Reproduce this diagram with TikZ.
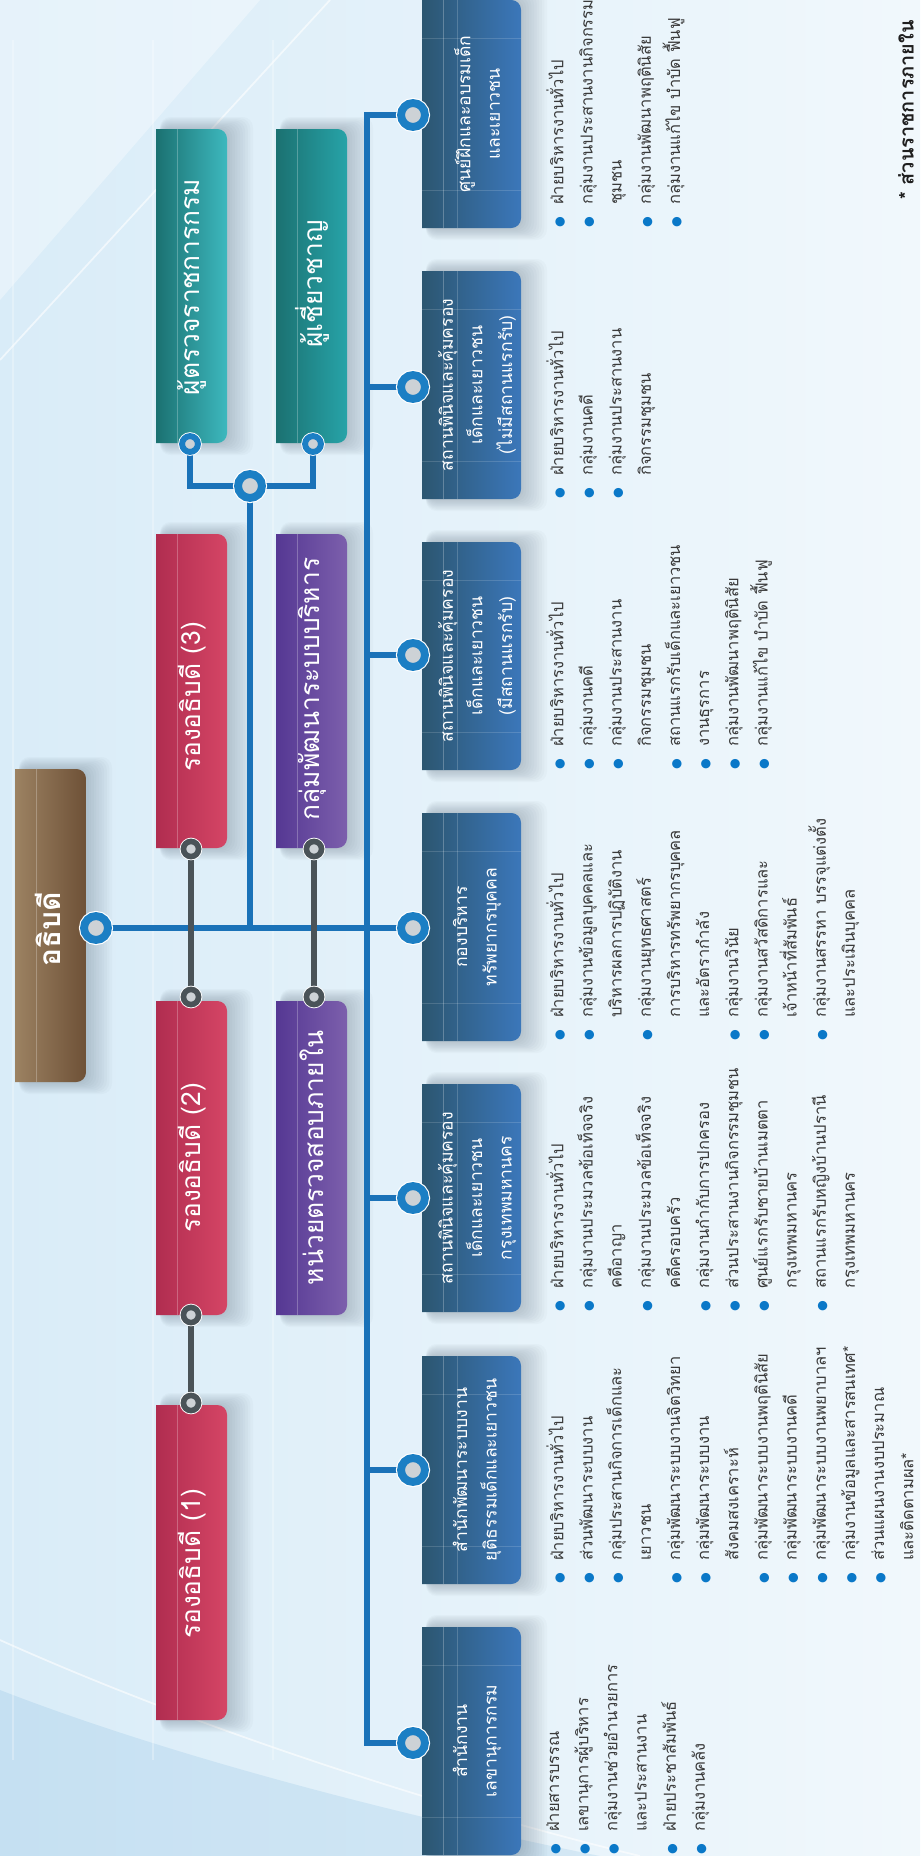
\documentclass[tikz,border=0pt]{standalone}
\usepackage{fontspec}
\usetikzlibrary{calc}
\newfontfamily\thai[Script=Thai]{Loma}
\newfontfamily\dejavu{DejaVu Sans}
\definecolor{bgL}{HTML}{D9ECF8}
\definecolor{bgR}{HTML}{F1F8FC}
\definecolor{lineblue}{HTML}{1A72B8}
\definecolor{ringblue}{HTML}{1C7FC4}
\definecolor{ringgray}{HTML}{4A5358}
\definecolor{innergray}{HTML}{CDD2D6}
\definecolor{txtgray}{HTML}{3A3A3A}
\definecolor{bulletblue}{HTML}{0A78C8}
\definecolor{brownL}{HTML}{9C8262}
\definecolor{brownR}{HTML}{6E5137}
\definecolor{tealL}{HTML}{1B7171}
\definecolor{tealR}{HTML}{3DB8BE}
\definecolor{teal2R}{HTML}{27A3A8}
\definecolor{redL}{HTML}{B02D50}
\definecolor{redR}{HTML}{D54565}
\definecolor{purL}{HTML}{553893}
\definecolor{purR}{HTML}{7C5FAC}
\definecolor{unitL}{HTML}{2C5670}
\definecolor{unitR}{HTML}{3B77BA}
\definecolor{shadowc}{HTML}{3A4A5C}
\newcommand{\cbox}[6]{%
  \foreach \i in {1,...,10}{\fill[shadowc, opacity=0.028, rounded corners=6pt] (#1+4,#2-\i*1.2) rectangle (#3+\i*2.6,#4+\i*1.2);}
  \begin{scope}
    \clip[rounded corners=5.5pt] (#1-20,#2) rectangle (#3,#4);
    \shade[left color=#5, right color=#6] (#1,#2) rectangle (#3,#4);
  \end{scope}
  \draw[white, opacity=0.25, line width=0.4pt] (#1+21,#2) -- (#1+21,#4);
}
\newcommand{\ubox}[2]{% center y, name of box
  \cbox{422}{#1-114}{521}{#1+114}{unitL}{unitR}
  \draw[white, opacity=0.18, line width=0.4pt] (457,#1-114) -- (457,#1+114);
  \draw[white, opacity=0.15, line width=0.4pt] (422,#1-76) -- (521,#1-76) (422,#1+76) -- (521,#1+76);
}
\newcommand{\bl}[1]{\makebox[13pt][l]{\textcolor{bulletblue}{\dejavu\fontsize{7}{7}\selectfont ●}}#1}
\newcommand{\ct}[1]{\hspace*{13pt}#1}
\tikzset{
  ttl/.style={rotate=90, text=white, font=\thai\fontsize{15}{17}\selectfont, inner sep=0pt},
  utl/.style={rotate=90, text=white, font=\thai\fontsize{10}{16.8}\selectfont, align=center, inner sep=0pt},
  blist/.style={rotate=90, anchor=north west, text=txtgray, font=\thai\fontsize{9.4}{16.6}\selectfont, align=left, inner sep=0pt},
  bcirc/.style={circle, fill=innergray, draw=ringblue, line width=4.5pt, minimum size=13.6pt, inner sep=0pt, preaction={draw=white, line width=5.8pt}},
  scirc/.style={circle, fill=innergray, draw=ringblue, line width=3.4pt, minimum size=9pt, inner sep=0pt, preaction={draw=white, line width=4.4pt}},
  gcirc/.style={circle, fill=innergray, draw=ringgray, line width=3.2pt, minimum size=8.6pt, inner sep=0pt, preaction={draw=white, line width=4.2pt}},
  bline/.style={draw=lineblue, line width=3.8pt, line join=miter},
  gline/.style={draw=ringgray, line width=3.2pt},
}
\begin{document}
\begin{tikzpicture}[x=0.02cm, y=-0.02cm]
\useasboundingbox (0,0) rectangle (920,1856);
% background
\shade[left color=bgL, right color=bgR] (0,0) rectangle (920,1856);
\fill[white, opacity=0.35] (0,0) -- (260,0) -- (0,300) -- cycle;
\draw[white, opacity=0.6, line width=1pt] (0,360) -- (330,0);
\fill[ringblue, opacity=0.10] (0,1690) .. controls (180,1760) and (420,1820) .. (600,1856) -- (0,1856) -- cycle;
\draw[white, opacity=0.6, line width=1pt] (0,1640) .. controls (200,1730) and (450,1810) .. (640,1856);
\foreach \xx in {13,153,273}{\draw[white, opacity=0.28, line width=0.6pt] (\xx,40) -- (\xx,1760);}

% boxes
\cbox{15}{769}{86}{1082}{brownL}{brownR}
\cbox{156}{129}{227}{443}{tealL}{tealR}
\cbox{276}{129}{347}{443}{tealL}{teal2R}
\cbox{156}{534}{227}{848}{redL}{redR}
\cbox{156}{1001}{227}{1315}{redL}{redR}
\cbox{156}{1405}{227}{1720}{redL}{redR}
\cbox{276}{534}{347}{848}{purL}{purR}
\cbox{276}{1001}{347}{1315}{purL}{purR}
\ubox{114}{u7}
\ubox{385}{u6}
\ubox{656}{u5}
\ubox{927}{u4}
\ubox{1198}{u3}
\ubox{1470}{u2}
\ubox{1741}{u1}

% coordinates
\coordinate (pdg) at (96,928);
\coordinate (p7) at (413,115);
\coordinate (p6) at (413,387);
\coordinate (p5) at (413,655);
\coordinate (p4) at (413,928);
\coordinate (p3) at (413,1198);
\coordinate (p2) at (413,1470);
\coordinate (p1) at (413,1743);
\coordinate (t7) at (367,115);
\coordinate (t6) at (367,387);
\coordinate (t5) at (367,655);
\coordinate (t4) at (367,928);
\coordinate (t3) at (367,1198);
\coordinate (t2) at (367,1470);
\coordinate (t1) at (367,1743);
\coordinate (pb) at (250,486);
\coordinate (jb) at (250,928);
\coordinate (ps1) at (190,444);
\coordinate (ps2) at (313,444);
\coordinate (ps1b) at (190,486);
\coordinate (ps2b) at (313,486);
\coordinate (g3) at (191,849);
\coordinate (g2a) at (191,997);
\coordinate (g2b) at (191,1315);
\coordinate (g1) at (191,1403);
\coordinate (g5) at (314,849);
\coordinate (g6) at (314,997);

% connectors
\draw[bline] (p7) -- (t7) -- (t1) -- (p1);
\foreach \k in {2,...,6}{\draw[bline] (t\k) -- (p\k);}
\draw[bline] (pdg) -- (p4);
\draw[bline] (pb) -- (jb);
\draw[bline] (ps1) -- (ps1b) -- (ps2b) -- (ps2);
\draw[gline] (g3) -- (g2a);
\draw[gline] (g2b) -- (g1);
\draw[gline] (g5) -- (g6);

% circles
\node[bcirc] (cdg) at (pdg) {};
\foreach \k in {1,...,7}{\node[bcirc] (c\k) at (p\k) {};}
\node[bcirc] (cb) at (pb) {};
\node[scirc] (cs1) at (ps1) {};
\node[scirc] (cs2) at (ps2) {};
\node[gcirc] (cg3) at (g3) {};
\node[gcirc] (cg2a) at (g2a) {};
\node[gcirc] (cg2b) at (g2b) {};
\node[gcirc] (cg1) at (g1) {};
\node[gcirc] (cg5) at (g5) {};
\node[gcirc] (cg6) at (g6) {};

% titles
\node[ttl, font=\thai\bfseries\fontsize{17}{19}\selectfont] (dg) at (48,929) {อธิบดี};
\node[ttl] (insp) at (192,287) {ผู้ตรวจราชการกรม};
\node[ttl] (expt) at (312,284) {ผู้เชี่ยวชาญ};
\node[ttl] (dep3) at (192,697) {รองอธิบดี (3)};
\node[ttl] (dep2) at (192,1158) {รองอธิบดี (2)};
\node[ttl] (dep1) at (192,1564) {รองอธิบดี (1)};
\node[ttl] (pdev) at (312,689) {กลุ่มพัฒนาระบบบริหาร};
\node[ttl] (audit) at (312,1158) {หน่วยตรวจสอบภายใน};

\node[utl] (u7) at (477,114) {ศูนย์ฝึกและอบรมเด็ก\\และเยาวชน};
\node[utl] (u6) at (477,385) {สถานพินิจและคุ้มครอง\\เด็กและเยาวชน\\(ไม่มีสถานแรกรับ)};
\node[utl] (u5) at (477,656) {สถานพินิจและคุ้มครอง\\เด็กและเยาวชน\\(มีสถานแรกรับ)};
\node[utl] (u4) at (477,927) {กองบริหาร\\ทรัพยากรบุคคล};
\node[utl] (u3) at (477,1198) {สถานพินิจและคุ้มครอง\\เด็กและเยาวชน\\กรุงเทพมหานคร};
\node[utl] (u2) at (477,1470) {สำนักพัฒนาระบบงาน\\ยุติธรรมเด็กและเยาวชน};
\node[utl] (u1) at (477,1741) {สำนักงาน\\เลขานุการกรม};

% lists
\node[blist] (l7) at (546,228) {\bl{ฝ่ายบริหารงานทั่วไป}\\\bl{กลุ่มงานประสานงานกิจกรรม}\\\ct{ชุมชน}\\\bl{กลุ่มงานพัฒนาพฤตินิสัย}\\\bl{กลุ่มงานแก้ไข บำบัด ฟื้นฟู}};
\node[blist] (l6) at (546,499) {\bl{ฝ่ายบริหารงานทั่วไป}\\\bl{กลุ่มงานคดี}\\\bl{กลุ่มงานประสานงาน}\\\ct{กิจกรรมชุมชน}};
\node[blist] (l5) at (546,770) {\bl{ฝ่ายบริหารงานทั่วไป}\\\bl{กลุ่มงานคดี}\\\bl{กลุ่มงานประสานงาน}\\\ct{กิจกรรมชุมชน}\\\bl{สถานแรกรับเด็กและเยาวชน}\\\bl{งานธุรการ}\\\bl{กลุ่มงานพัฒนาพฤตินิสัย}\\\bl{กลุ่มงานแก้ไข บำบัด ฟื้นฟู}};
\node[blist] (l4) at (546,1041) {\bl{ฝ่ายบริหารงานทั่วไป}\\\bl{กลุ่มงานข้อมูลบุคคลและ}\\\ct{บริหารผลการปฏิบัติงาน}\\\bl{กลุ่มงานยุทธศาสตร์}\\\ct{การบริหารทรัพยากรบุคคล}\\\ct{และอัตรากำลัง}\\\bl{กลุ่มงานวินัย}\\\bl{กลุ่มงานสวัสดิการและ}\\\ct{เจ้าหน้าที่สัมพันธ์}\\\bl{กลุ่มงานสรรหา บรรจุแต่งตั้ง}\\\ct{และประเมินบุคคล}};
\node[blist] (l3) at (546,1312) {\bl{ฝ่ายบริหารงานทั่วไป}\\\bl{กลุ่มงานประมวลข้อเท็จจริง}\\\ct{คดีอาญา}\\\bl{กลุ่มงานประมวลข้อเท็จจริง}\\\ct{คดีครอบครัว}\\\bl{กลุ่มงานกำกับการปกครอง}\\\bl{ส่วนประสานงานกิจกรรมชุมชน}\\\bl{ศูนย์แรกรับชายบ้านเมตตา}\\\ct{กรุงเทพมหานคร}\\\bl{สถานแรกรับหญิงบ้านปรานี}\\\ct{กรุงเทพมหานคร}};
\node[blist] (l2) at (546,1584) {\bl{ฝ่ายบริหารงานทั่วไป}\\\bl{ส่วนพัฒนาระบบงาน}\\\bl{กลุ่มประสานกิจการเด็กและ}\\\ct{เยาวชน}\\\bl{กลุ่มพัฒนาระบบงานจิตวิทยา}\\\bl{กลุ่มพัฒนาระบบงาน}\\\ct{สังคมสงเคราะห์}\\\bl{กลุ่มพัฒนาระบบงานพฤตินิสัย}\\\bl{กลุ่มพัฒนาระบบงานคดี}\\\bl{กลุ่มพัฒนาระบบงานพยาบาลฯ}\\\bl{กลุ่มงานข้อมูลและสารสนเทศ*}\\\bl{ส่วนแผนงานงบประมาณ}\\\ct{และติดตามผล*}};
\node[blist] (l1) at (546,1855) {\bl{ฝ่ายสารบรรณ}\\\bl{เลขานุการผู้บริหาร}\\\bl{กลุ่มงานช่วยอำนวยการ}\\\ct{และประสานงาน}\\\bl{ฝ่ายประชาสัมพันธ์}\\\bl{กลุ่มงานคลัง}};

\node[rotate=90, anchor=west, inner sep=0pt, text=black!88, font=\thai\bfseries\fontsize{11.3}{13}\selectfont] (note) at (906,200) {* ส่วนราชการภายใน};
\end{tikzpicture}
\end{document}
